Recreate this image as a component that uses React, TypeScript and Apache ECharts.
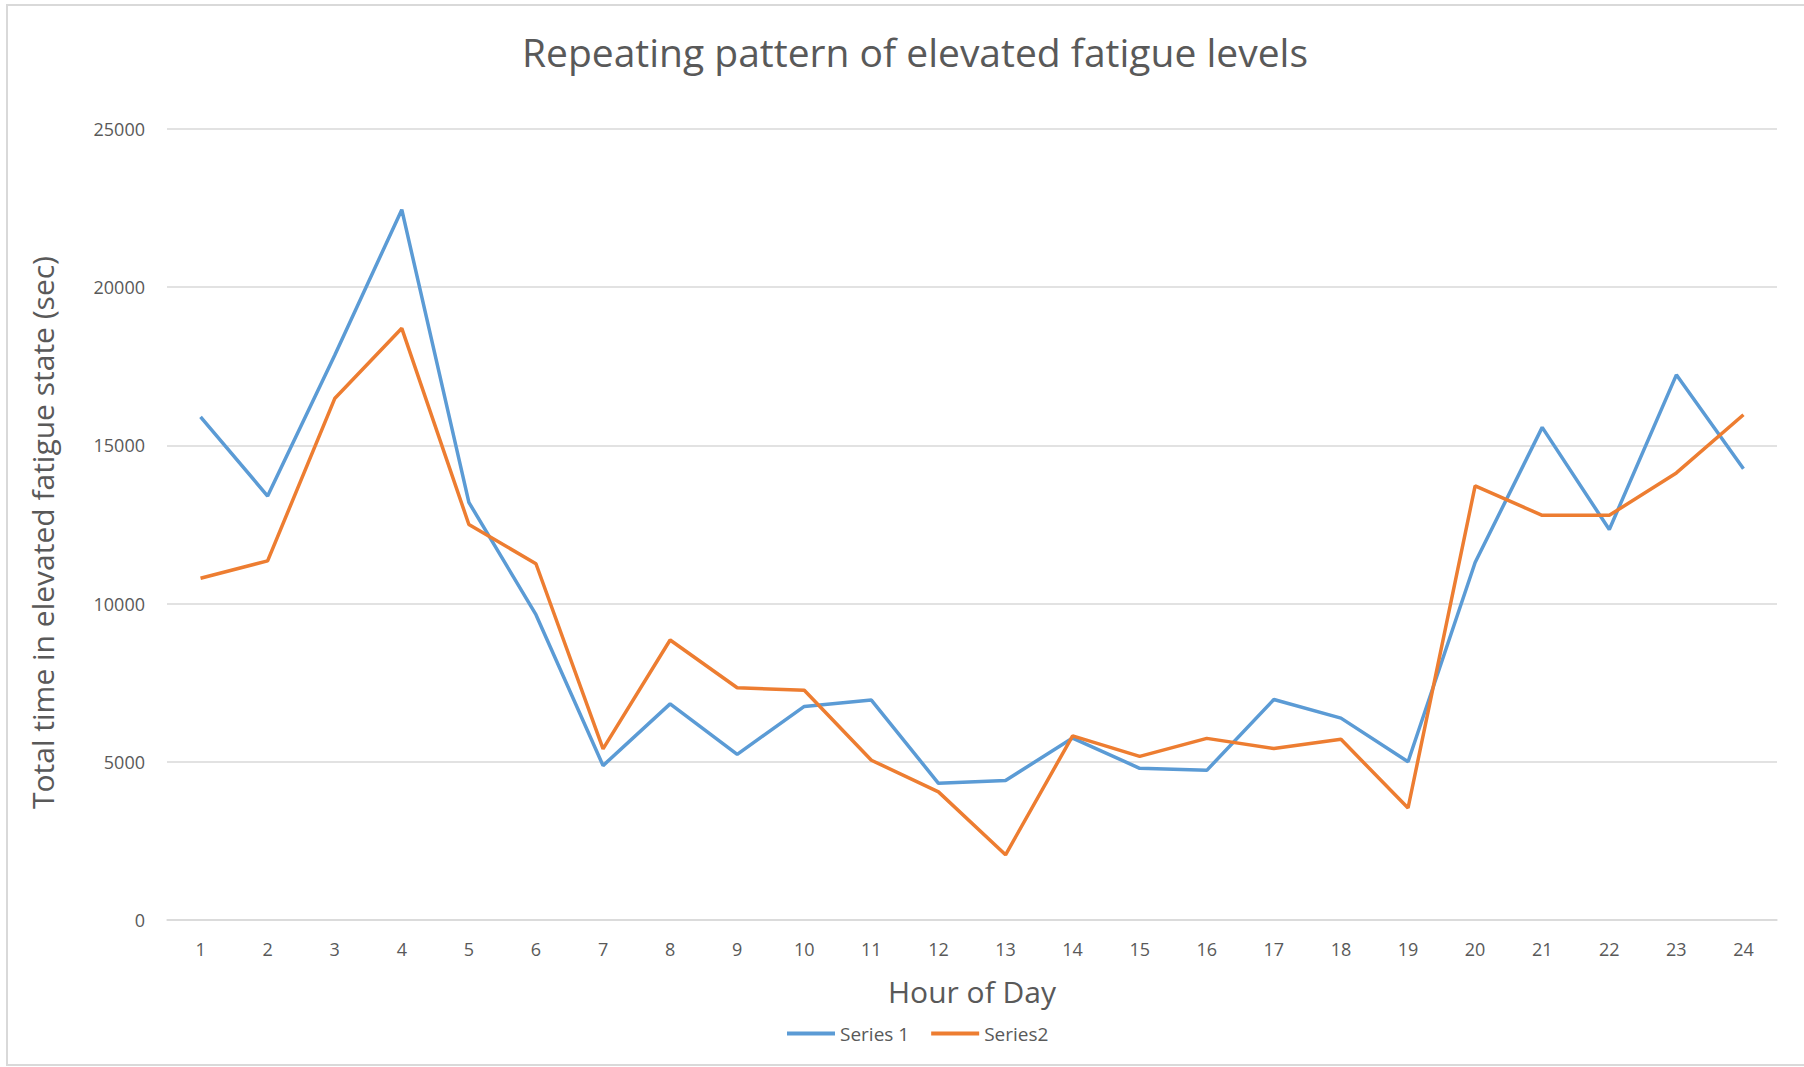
import React, { useEffect, useRef } from "react";
import * as echarts from "echarts";

const hours = ["1","2","3","4","5","6","7","8","9","10","11","12","13","14","15","16","17","18","19","20","21","22","23","24"];
const series1 = [15900, 13400, 17850, 22450, 13200, 9650, 4880, 6830, 5235, 6750, 6950, 4320, 4410, 5750, 4795, 4730, 6970, 6380, 5000, 11300, 15570, 12340, 17230, 14260];
const series2 = [10800, 11350, 16480, 18700, 12500, 11260, 5410, 8850, 7340, 7260, 5050, 4050, 2060, 5820, 5170, 5740, 5420, 5710, 3540, 13720, 12790, 12790, 14130, 15970];
const seriesNames = ["Series 1", "Series2"];
const colors = ["#5B9BD5", "#ED7D31"];

const FONT = "Open Sans";
const TXT = "#595959";

export default function App() {
  const ref = useRef<HTMLDivElement>(null);
  useEffect(() => {
    if (!ref.current) return;
    const chart = echarts.init(ref.current, null, { renderer: "svg" });
    chart.setOption({
      animation: false,
      backgroundColor: "#ffffff",
      title: {
        text: "Repeating pattern of elevated fatigue levels",
        left: 910,
        textAlign: "center",
        top: 27,
        textStyle: { fontFamily: FONT, fontSize: 39, fontWeight: "normal", color: TXT },
      },
      legend: {
        data: seriesNames,
        left: 782,
        top: 1019,
        icon: "rect",
        itemWidth: 48,
        itemHeight: 4,
        itemGap: 22,
        textStyle: { fontFamily: FONT, fontSize: 19, color: TXT },
      },
      grid: { left: 167, right: 27, top: 129, bottom: 147, containLabel: false },
      xAxis: {
        type: "category",
        data: hours,
        boundaryGap: true,
        name: "Hour of Day",
        nameLocation: "middle",
        nameGap: 56,
        nameTextStyle: { fontFamily: FONT, fontSize: 30, color: TXT },
        axisLine: { show: true, lineStyle: { color: "#d9d9d9", width: 1.5 } },
        axisTick: { show: false },
        axisLabel: { fontFamily: FONT, fontSize: 18, color: TXT, margin: 20 },
      },
      yAxis: {
        type: "value",
        min: 0,
        max: 25000,
        interval: 5000,
        name: "Total time in elevated fatigue state (sec)",
        nameLocation: "middle",
        nameGap: 110,
        nameTextStyle: { fontFamily: FONT, fontSize: 30, color: TXT, padding: [0, 16, 0, 0] },
        axisLine: { show: false },
        axisTick: { show: false },
        axisLabel: {
          fontFamily: FONT,
          fontSize: 18,
          color: TXT,
          margin: 22,
          formatter: (v: number) => String(v),
        },
        splitLine: { lineStyle: { color: "#d9d9d9", width: 1.5 } },
      },
      graphic: [
        {
          type: "rect",
          shape: { x: 7, y: 5, width: 1830, height: 1060 },
          style: { fill: "none", stroke: "#d9d9d9", lineWidth: 2 },
          silent: true,
        },
      ],
      series: [
        {
          name: seriesNames[0],
          type: "line",
          data: series1,
          symbol: "none",
          lineStyle: { color: colors[0], width: 3.5 },
          itemStyle: { color: colors[0] },
        },
        {
          name: seriesNames[1],
          type: "line",
          data: series2,
          symbol: "none",
          lineStyle: { color: colors[1], width: 3.5 },
          itemStyle: { color: colors[1] },
        },
      ],
    });
    return () => chart.dispose();
  }, []);
  return (
    <div
      ref={ref}
      style={{ position: "fixed", left: 0, top: 0, width: 1804, height: 1067, background: "#fff" }}
    />
  );
}
